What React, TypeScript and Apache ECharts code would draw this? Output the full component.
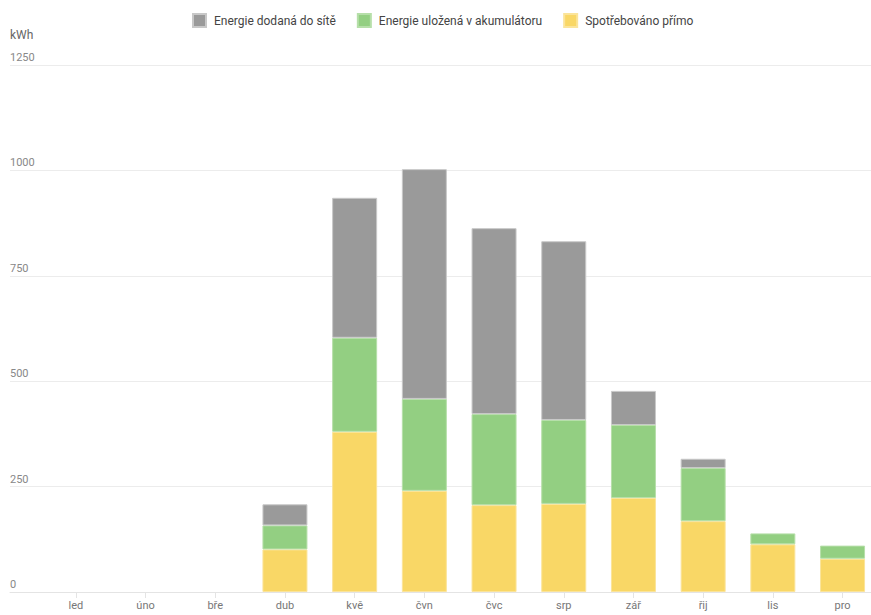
import React, { useEffect, useRef } from "react";
import * as echarts from "echarts";

const months = ["led", "úno", "bře", "dub", "kvě", "čvn", "čvc", "srp", "zář", "řij", "lis", "pro"];
const directUse = [0, 0, 0, 101, 380, 240, 206, 209, 223, 168, 113, 79];
const batteryStored = [0, 0, 0, 57, 223, 218, 216, 199, 173, 126, 26, 31];
const gridExport = [0, 0, 0, 50, 332, 545, 441, 424, 81, 22, 0, 0];
const seriesNames = ["Energie dodaná do sítě", "Energie uložená v akumulátoru", "Spotřebováno přímo"];
const yMax = 1250;
const yStep = 250;

const hideZero = (arr: number[]) => arr.map((v) => (v === 0 ? "-" : v));

export default function App() {
  const ref = useRef<HTMLDivElement>(null);
  useEffect(() => {
    if (!ref.current) return;
    const chart = echarts.init(ref.current, undefined, { renderer: "svg" });
    const font = "Roboto, 'Noto Sans', sans-serif";
    chart.setOption({
      animation: false,
      textStyle: { fontFamily: font },
      legend: {
        data: seriesNames,
        left: 192,
        top: 13,
        padding: 0,
        itemWidth: 13,
        itemHeight: 13,
        itemGap: 21,
        icon: "rect",
        textStyle: { fontSize: 12, color: "#444", fontFamily: font, padding: [0, 0, 0, 3] },
      },
      graphic: [
        { type: "text", left: 10, top: 29, style: { text: "kWh", fontSize: 12, fill: "#666", fontFamily: font } },
      ],
      grid: [
        { left: 10, right: 0, top: 65, bottom: 23 },
        { left: 41, width: 836.4, top: 65, bottom: 23 },
      ],
      xAxis: [
        {
          gridIndex: 0,
          type: "category",
          data: [""],
          axisLine: { show: true, lineStyle: { color: "#e4e4e4" } },
          axisTick: { show: false },
          axisLabel: { show: false },
        },
        {
          gridIndex: 1,
          type: "category",
          data: months,
          axisLine: { show: false },
          axisTick: { show: true, alignWithLabel: true, length: 6, lineStyle: { color: "#e4e4e4" } },
          axisLabel: { color: "#777", fontSize: 11, margin: 8, fontFamily: font },
        },
      ],
      yAxis: [
        {
          gridIndex: 0,
          type: "value",
          min: 0,
          max: yMax,
          interval: yStep,
          axisLine: { show: false },
          axisTick: { show: false },
          splitLine: { show: true, lineStyle: { color: "#ececec" } },
          axisLabel: {
            inside: true,
            margin: 0,
            align: "left",
            verticalAlign: "bottom",
            padding: [0, 0, 2, 0],
            color: "#888",
            fontSize: 11,
            fontFamily: font,
            formatter: (v: number) => String(v),
          },
        },
        {
          gridIndex: 1,
          type: "value",
          min: 0,
          max: yMax,
          interval: yStep,
          show: false,
          splitLine: { show: false },
        },
      ],
      series: [
        {
          name: seriesNames[2],
          type: "bar",
          stack: "total",
          xAxisIndex: 1,
          yAxisIndex: 1,
          barWidth: 45,
          data: hideZero(directUse),
          itemStyle: { color: "#f9d766", borderColor: "#fbe49a", borderWidth: 1 },
        },
        {
          name: seriesNames[1],
          type: "bar",
          stack: "total",
          xAxisIndex: 1,
          yAxisIndex: 1,
          barWidth: 45,
          data: hideZero(batteryStored),
          itemStyle: { color: "#93cf82", borderColor: "#b6dfa9", borderWidth: 1 },
        },
        {
          name: seriesNames[0],
          type: "bar",
          stack: "total",
          xAxisIndex: 1,
          yAxisIndex: 1,
          barWidth: 45,
          data: hideZero(gridExport),
          itemStyle: { color: "#9a9a9a", borderColor: "#c8c8c8", borderWidth: 1 },
        },
      ],
    });
    return () => chart.dispose();
  }, []);
  return (
    <div style={{ position: "fixed", left: 0, top: 0, width: 871, height: 615, overflow: "hidden", background: "#fff" }}>
      <div ref={ref} style={{ width: 911, height: 615 }} />
    </div>
  );
}
